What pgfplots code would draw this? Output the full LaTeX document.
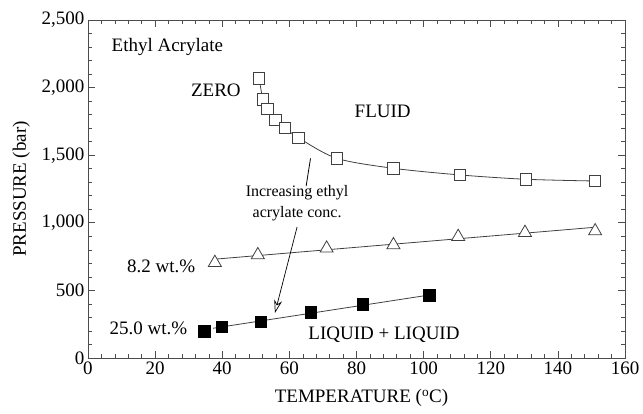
\documentclass[border=0pt]{standalone}
\usepackage{pgfplots}
\pgfplotsset{compat=1.18}
\usepackage{fontspec}
\setmainfont{Liberation Serif}
\usetikzlibrary{arrows.meta}

% Cloud-point data for ethyl acrylate mixtures
\pgfplotstableread{
T P
51.0 2069
52.1 1913
53.5 1842
55.8 1760
58.6 1703
62.7 1629
74.1 1477
91.0 1403
110.8 1354
130.4 1322
151.1 1309
}\zero
\pgfplotstableread{
T P
37.8 705
50.6 762
71.1 811
91.0 836
110.3 897
130.2 927
151.1 939
}\eightpt
\pgfplotstableread{
T P
34.7 200
39.8 232
51.5 269
66.4 338
81.9 397
101.7 466
}\twentyfive

\begin{document}
\begin{tikzpicture}[x=1pt,y=1pt]
\begin{axis}[
  scale only axis,
  width=537pt, height=338pt,
  xmin=0, xmax=160, ymin=0, ymax=2500,
  xtick={0,20,...,160},
  ytick={0,500,...,2500},
  minor x tick num=4,
  minor y tick num=4,
  tick align=inside,
  major tick length=7pt,
  minor tick length=4pt,
  axis line style={black!70, line width=0.8pt},
  every tick/.style={black!70, line width=0.6pt},
  tick pos=both,
  font=\fontsize{19}{22}\selectfont,
  ticklabel style={font=\fontsize{19}{22}\selectfont},
  /pgf/number format/assume math mode=true,
  /pgf/number format/1000 sep={,},
  scaled ticks=false,
  xlabel={TEMPERATURE (\textsuperscript{o}C)},
  ylabel={PRESSURE (bar)},
  xlabel style={yshift=-8pt, xshift=5pt},
  ylabel style={yshift=5pt},
  clip=false,
]
% fitted curves
\addplot[black!75, line width=0.8pt, smooth, tension=0.5, no marks] table[x=T,y=P] {\zero};
\addplot[black!75, line width=0.8pt, no marks] coordinates {(38.3,732) (151.1,967)};
\addplot[black!75, line width=0.8pt, no marks] coordinates {(37.3,220) (101.7,466)};
% measured points
\addplot[only marks, mark=square*, mark size=5.7pt, mark options={fill=white, draw=black!75, line width=0.8pt}] table[x=T,y=P] {\zero};
\addplot[only marks, mark=triangle*, mark size=7.5pt, mark options={fill=white, draw=black!75, line width=0.8pt}] table[x=T,y=P] {\eightpt};
\addplot[only marks, mark=square*, mark size=5.8pt, mark options={fill=black, draw=black}] table[x=T,y=P] {\twentyfive};

% annotations
\node[anchor=west] at (axis cs:6,2300) {Ethyl Acrylate};
\node at (axis cs:38.1,1982) {ZERO};
\node at (axis cs:87.8,1822) {FLUID};
\node at (axis cs:21.8,675) {8.2 wt.\%};
\node at (axis cs:18.0,222) {25.0 wt.\%};
\node at (axis cs:88.2,170) {LIQUID + LIQUID};
\node[align=center, inner sep=0pt, font=\fontsize{16}{21}\selectfont] at (axis cs:62.3,1143) {Increasing ethyl\\acrylate conc.};
\draw[black, line width=0.8pt] (axis cs:66.3,1477) -- (axis cs:65.0,1272);
\draw[black, line width=0.7pt, -{Stealth[open, length=13pt, width=8pt]}] (axis cs:62.3,969) -- (axis cs:55.7,333);
\end{axis}
\pgfresetboundingbox
\path (current axis.south west) ++(-88pt,-56pt) coordinate (bbl);
\path (current axis.north east) ++(18pt,20pt) coordinate (bur);
\path (bbl) rectangle (bur);
\end{tikzpicture}
\end{document}
